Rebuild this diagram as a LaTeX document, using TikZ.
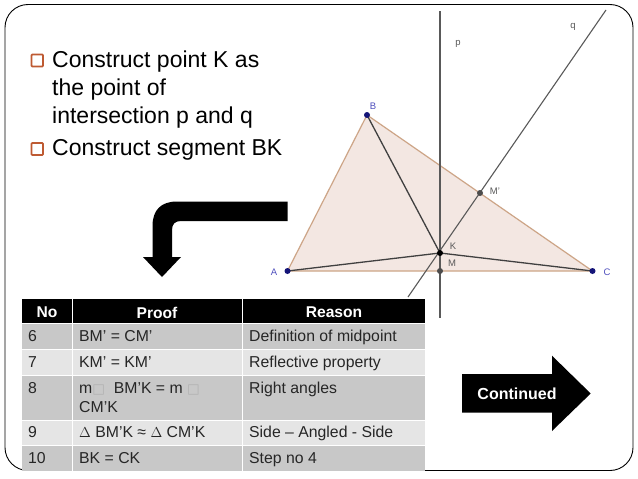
\documentclass[tikz,border=0pt]{standalone}
\usepackage{fontspec}
\setmainfont{Liberation Sans}
\newfontfamily\dvs{DejaVu Sans}
\usetikzlibrary{calc}
\definecolor{rowa}{RGB}{200,200,200}
\definecolor{rowb}{RGB}{229,229,229}
\definecolor{bul}{RGB}{190,90,50}
\definecolor{tri}{RGB}{243,231,226}
\definecolor{triedge}{RGB}{205,165,135}
\definecolor{ptblue}{RGB}{20,20,120}
\definecolor{lblblue}{RGB}{80,80,190}
\definecolor{lblgray}{RGB}{90,90,90}
\newcommand{\gbox}{{\dvs\textcolor{gray!60}{\scalebox{0.85}{□}}}}
\tikzset{
  x=1pt,y=-1pt,
  cellh/.style={fill=black,draw=none},
  cella/.style={fill=rowa,draw=none},
  cellb/.style={fill=rowb,draw=none},
  headtxt/.style={text=white,font=\fontsize{15.6}{17}\selectfont\bfseries,anchor=center,inner sep=0pt},
  celltxt/.style={text=black!85,font=\fontsize{15.8}{19.5}\selectfont,anchor=north west,inner sep=0pt,align=left},
  bultxt/.style={text=black,font=\fontsize{23}{28}\selectfont,anchor=north west,inner sep=0pt,align=left},
  bulbox/.style={draw=bul,line width=1.8pt,fill=white,rounded corners=0.8pt},
  ptdot/.style={circle,fill=#1,inner sep=0pt,minimum size=6pt},
  lbl/.style={font=\fontsize{#1}{#1}\selectfont,inner sep=0pt},
  geoline/.style={draw=black!65,line width=1.1pt},
  seg/.style={draw=black!75,line width=1.3pt},
}
\begin{document}
\begin{tikzpicture}
\useasboundingbox (0,0) rectangle (638,479);
\fill[white] (0,0) rectangle (638,479);
% frame
\draw[black,line width=0.9pt,rounded corners=23pt] (5,4.5) rectangle (633,470.5);
% triangle
\coordinate (A) at (287.5,271);
\coordinate (B) at (367,115);
\coordinate (C) at (592.5,271);
\coordinate (K) at (440,253);
\coordinate (M) at (440,271);
\coordinate (Mp) at (480,193);
\coordinate (p1) at (440,11);
\coordinate (p2) at (440,318);
\coordinate (q1) at (606,10);
\coordinate (q2) at (408,297);
\fill[tri] (A)--(B)--(C)--cycle;
\draw[triedge,line width=1.2pt] (A)--(B)--(C)--cycle;
\draw[geoline] (p1)--(p2);
\draw[geoline] (q1)--(q2);
\draw[seg] (B)--(K);
\draw[seg] (A)--(K);
\draw[seg] (C)--(K);
\node[ptdot=ptblue] (nA) at (A) {};
\node[ptdot=ptblue] (nB) at (B) {};
\node[ptdot=ptblue] (nC) at (C) {};
\node[ptdot=black] (nK) at (K) {};
\node[ptdot=black!70] (nM) at (M) {};
\node[ptdot=black!70] (nMp) at (Mp) {};
\node[lbl=9.5,text=lblblue] (lA) at (274,272) {A};
\node[lbl=9.5,text=lblblue] (lB) at (373,106) {B};
\node[lbl=9.5,text=lblblue] (lC) at (607,272) {C};
\node[lbl=9.5,text=lblgray] (lK) at (453,246) {K};
\node[lbl=9.5,text=lblgray] (lM) at (452,263) {M};
\node[lbl=9.5,text=lblgray] (lMp) at (495,191) {M'};
\node[lbl=9.5,text=lblgray] (lp) at (458,44) {p};
\node[lbl=9.5,text=lblgray] (lq) at (573,27) {q};
% bullets
\node[bultxt] (t1) at (52,50.5) {Construct point K as\\the point of\\intersection p and q};
\node[bultxt] (t2) at (52,139.5) {Construct segment BK};
\draw[bulbox] (31.5,54.5) rectangle (43,66.5);
\draw[bulbox] (31.5,143) rectangle (43,155);
% bent arrow
\fill[black] (287.5,201.5) -- (177,201.5) .. controls (161,201.5) and (152.5,210) .. (152.5,226) -- (152.5,257) -- (143,257) -- (162,277) -- (181,257) -- (172,257) -- (172,230) .. controls (172,224) and (175,221) .. (181,221) -- (287.5,221) -- cycle;
% continued arrow
\fill[black] (462,374) -- (552,374) -- (552,355.7) -- (590.7,393.5) -- (552,431) -- (552,412.7) -- (462,412.7) -- cycle;
\node[text=white,font=\fontsize{16}{17}\selectfont\bfseries,inner sep=0pt] (cont) at (517,393.5) {Continued};
% table
\fill[cellh] (22,299) rectangle (425,323);
\fill[cella] (22,324) rectangle (425,349);
\fill[cellb] (22,350) rectangle (425,375);
\fill[cella] (22,376) rectangle (425,420);
\fill[cellb] (22,421) rectangle (425,445);
\fill[cella] (22,446) rectangle (425,471);
\fill[white] (72,299) rectangle (73,471);
\fill[white] (242,299) rectangle (243,471);
\node[headtxt] (h1) at (47,312.5) {No};
\node[headtxt] (h2) at (157,312.5) {Proof};
\node[headtxt] (h3) at (334,312.5) {Reason};
\foreach \y/\a/\b/\c/\n in {
  330/6/{BM’ = CM’}/{Definition of midpoint}/r6,
  356/7/{KM’ = KM’}/{Reflective property}/r7,
  382/8/{m\gbox\ \ BM’K = m \gbox\\CM’K}/{Right angles}/r8,
  426/9/{$\Delta$ BM’K ≈ $\Delta$ CM’K}/{Side – Angled - Side}/r9,
  452/10/{BK = CK}/{Step no 4}/r10}{
  \node[celltxt] (\n a) at (28,\y) {\a};
  \node[celltxt] (\n b) at (79,\y) {\b};
  \node[celltxt] (\n c) at (249,\y) {\c};
}
\end{tikzpicture}
\end{document}
